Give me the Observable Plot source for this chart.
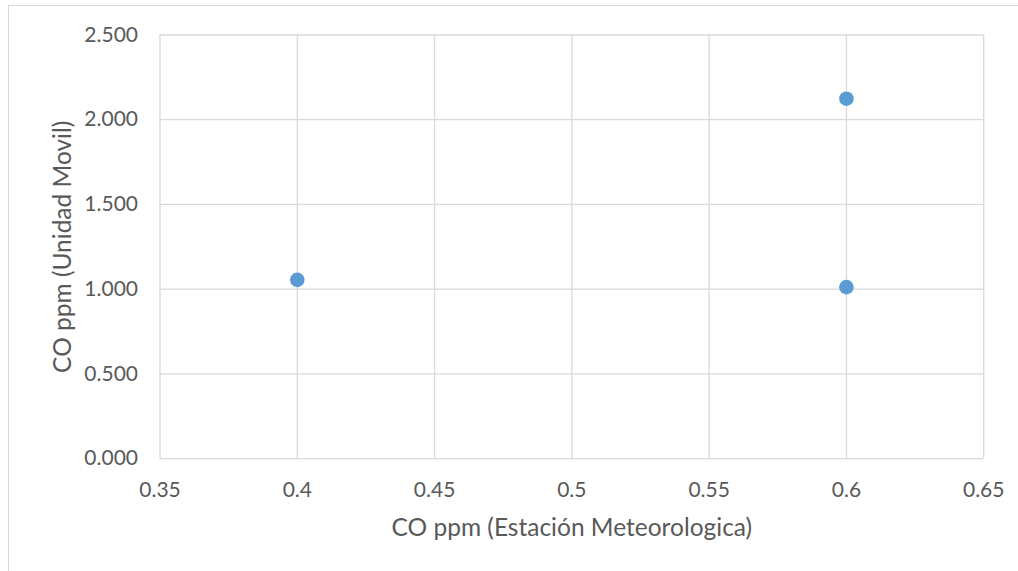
<!DOCTYPE html>
<html>
<head>
<meta charset="utf-8">
<script src="https://cdn.jsdelivr.net/npm/d3@7"></script>
<script src="https://cdn.jsdelivr.net/npm/@observablehq/plot@0.6"></script>
<style>
  html, body { margin: 0; padding: 0; background: #fff; }
  #wrap { position: relative; width: 1018px; height: 571px; overflow: hidden; }
  #border { position: absolute; left: 8px; top: 5px; width: 1030px; height: 600px; border: 1px solid #d9d9d9; box-sizing: border-box; }
  #chart { position: absolute; left: 0; top: 0; }
</style>
</head>
<body>
<div id="wrap"><div id="border"></div><div id="chart"></div></div>
<script>
const estacion = [0.4, 0.6, 0.6];
const unidadMovil = [1.055, 2.124, 1.012];
const xTicks = [0.35, 0.4, 0.45, 0.5, 0.55, 0.6, 0.65];
const yTicks = [0, 0.5, 1.0, 1.5, 2.0, 2.5];
const xTitle = "CO ppm (Estación Meteorologica)";
const yTitle = "CO ppm (Unidad Movil)";

const data = estacion.map((x, i) => ({x, y: unidadMovil[i]}));

const chart = Plot.plot({
  width: 1018,
  height: 571,
  marginLeft: 159.5,
  marginRight: 34.8,
  marginTop: 34.5,
  marginBottom: 112.9,
  style: { fontFamily: "Lato, 'Open Sans', sans-serif", fontSize: "21px", color: "#595959", background: "transparent" },
  x: { domain: [0.35, 0.65], ticks: xTicks, label: null },
  y: { domain: [0, 2.5], ticks: yTicks, label: null },
  marks: [
    Plot.gridX(xTicks, { stroke: "#d9d9d9", strokeOpacity: 1, strokeWidth: 1.3 }),
    Plot.gridY(yTicks, { stroke: "#d9d9d9", strokeOpacity: 1, strokeWidth: 1.3 }),
    Plot.axisX(xTicks, { tickSize: 0, tickPadding: 23, tickFormat: d => String(+d.toFixed(2)), fill: "#595959" }),
    Plot.axisY(yTicks, { tickSize: 0, tickPadding: 22, tickFormat: d3.format(".3f"), fill: "#595959" }),
    Plot.dot(data, { x: "x", y: "y", r: 7.3, fill: "#5b9bd5", stroke: "none" }),
    Plot.text([xTitle], { frameAnchor: "bottom", dy: 70, lineAnchor: "middle", textAnchor: "middle", fill: "#595959", fontSize: 24.5 }),
    Plot.text([yTitle], { frameAnchor: "left", dx: -97, rotate: -90, lineAnchor: "middle", textAnchor: "middle", fill: "#595959", fontSize: 24.5 })
  ]
});
document.getElementById("chart").appendChild(chart);
</script>
</body>
</html>
